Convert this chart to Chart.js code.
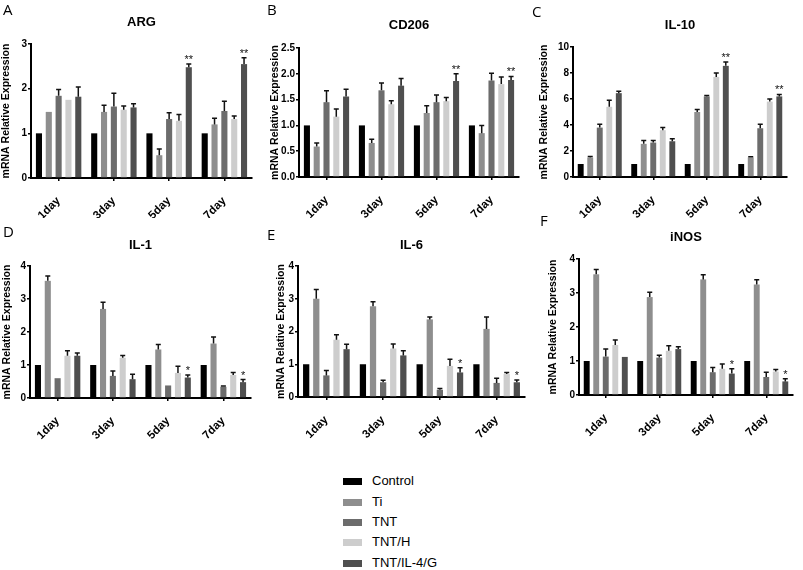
<!DOCTYPE html>
<html><head><meta charset="utf-8">
<script src="https://cdn.jsdelivr.net/npm/chart.js@4.4.0/dist/chart.umd.min.js"></script>
<style>
body{margin:0;background:#fff;width:803px;height:570px;position:relative;overflow:hidden;font-family:"Liberation Sans",Arial,sans-serif}
canvas{position:absolute}
.lt{position:absolute;font-family:"Open Sans","DejaVu Sans",sans-serif;font-size:15px;color:#000;line-height:15px}
.lg{position:absolute;left:343px;height:20px;width:150px;font-size:13px;color:#000}
.lg span.sw{position:absolute;left:0;top:7px;width:19px;height:7px}
.lg span.tx{position:absolute;left:29px;top:2px;line-height:16px}
</style>
</head><body>
<script>
// ---- data ----
const days = ["1day", "3day", "5day", "7day"];
const groups = ["Control", "Ti", "TNT", "TNT/H", "TNT/IL-4/G"];
const groupColors = ["#000000", "#8e8e8e", "#6c6c6c", "#cdcdcd", "#4f4f4f"];

const argValues = [[1,1,1,1],[1.48,1.48,0.51,1.2],[1.84,1.6,1.32,1.5],[1.75,1.53,1.28,1.32],[1.82,1.58,2.48,2.55]];
const argErrors = [[0,0,0,0],[0,0.15,0.14,0.14],[0.14,0.3,0.14,0.22],[0,0.08,0.14,0.07],[0.22,0.08,0.07,0.14]];
const argStars = ["", "", "**", "**"];

const cd206Values = [[1,1,1,1],[0.59,0.66,1.24,0.85],[1.45,1.68,1.45,1.87],[1.17,1.41,1.47,1.8],[1.56,1.77,1.86,1.88]];
const cd206Errors = [[0,0,0,0],[0.07,0.07,0.14,0.15],[0.22,0.14,0.14,0.14],[0.15,0.07,0.07,0.14],[0.14,0.14,0.14,0.07]];
const cd206Stars = ["", "", "**", "**"];

const il10Values = [[1,1,1,1],[1.5,2.55,5.0,1.5],[3.8,2.65,6.2,3.75],[5.4,3.6,7.7,5.8],[6.45,2.75,8.55,6.2]];
const il10Errors = [[0,0,0,0],[0.07,0.25,0.2,0.06],[0.25,0.15,0.07,0.3],[0.5,0.2,0.3,0.2],[0.15,0.2,0.3,0.15]];
const il10Stars = ["", "", "**", "**"];

const il1Values = [[1,1,1,1],[3.55,2.7,1.47,1.65],[0.6,0.67,0.38,0.34],[1.28,1.22,0.76,0.7],[1.28,0.57,0.62,0.48]];
const il1Errors = [[0,0,0,0],[0.15,0.2,0.15,0.2],[0,0.15,0,0.02],[0.15,0.07,0.2,0.07],[0.08,0.15,0.08,0.08]];
const il1Stars = ["", "", "*", "*"];

const il6Values = [[1,1,1,1],[3.0,2.77,2.37,2.08],[0.66,0.45,0.22,0.43],[1.75,1.48,0.95,0.7],[1.46,1.27,0.75,0.45]];
const il6Errors = [[0,0,0,0],[0.28,0.14,0.07,0.36],[0.15,0.06,0.04,0.14],[0.15,0.14,0.2,0.05],[0.15,0.14,0.14,0.07]];
const il6Stars = ["", "", "*", "*"];

const inosValues = [[1,1,1,1],[3.55,2.88,3.4,3.25],[1.13,1.1,0.67,0.53],[1.47,1.3,0.77,0.69],[1.12,1.35,0.63,0.4]];
const inosErrors = [[0,0,0,0],[0.14,0.14,0.14,0.14],[0.22,0.07,0.14,0.14],[0.15,0.15,0.14,0.06],[0,0.07,0.14,0.08]];
const inosStars = ["", "", "*", "*"];

const yTitle = "mRNA Relative Expression";

// ---- layout (positions only) ----
const panels = [
  {letter:"A", lx:3, ly:2, title:"ARG", x:0, y:0, w:265, h:218, padL:0, axisX:31, top:44, bottom:178, right:252, titleY:22, max:3, step:1, dec:0, values:argValues, errors:argErrors, stars:argStars},
  {letter:"B", lx:267, ly:2, title:"CD206", x:265, y:0, w:265, h:218, padL:4, axisX:34, top:48, bottom:177, right:254, titleY:25, max:2.5, step:0.5, dec:1, values:cd206Values, errors:cd206Errors, stars:cd206Stars},
  {letter:"C", lx:532, ly:4, title:"IL-10", x:530, y:0, w:273, h:218, padL:8, axisX:43, top:47, bottom:177, right:257, titleY:25, max:10, step:2, dec:0, values:il10Values, errors:il10Errors, stars:il10Stars},
  {letter:"D", lx:3, ly:224, title:"IL-1", x:0, y:218, w:265, h:222, padL:1, axisX:30, top:48, bottom:180, right:251, titleY:27, max:4, step:1, dec:0, values:il1Values, errors:il1Errors, stars:il1Stars},
  {letter:"E", lx:267, ly:227, title:"IL-6", x:265, y:218, w:265, h:222, padL:10, axisX:33, top:48, bottom:179, right:260, titleY:27, max:4, step:1, dec:0, values:il6Values, errors:il6Errors, stars:il6Stars},
  {letter:"F", lx:540, ly:213, title:"iNOS", x:530, y:218, w:273, h:222, padL:17, axisX:49, top:41, bottom:177, right:263, titleY:19, max:4, step:1, dec:0, values:inosValues, errors:inosErrors, stars:inosStars}
];

Chart.defaults.font.family = '"Liberation Sans", Arial, sans-serif';
Chart.defaults.color = '#000';

const errorBarPlugin = {
  id: 'errorBars',
  afterDatasetsDraw(chart, args, opts) {
    const ctx = chart.ctx;
    const ys = chart.scales.y;
    ctx.save();
    ctx.strokeStyle = '#111';
    ctx.fillStyle = '#111';
    ctx.lineWidth = 1.5;
    chart.data.datasets.forEach((ds, i) => {
      const meta = chart.getDatasetMeta(i);
      meta.data.forEach((bar, j) => {
        const e = opts.errors[i][j];
        const v = ds.data[j];
        let capY = bar.y;
        if (e > 0) {
          capY = ys.getPixelForValue(v + e);
          ctx.beginPath();
          ctx.moveTo(bar.x, bar.y);
          ctx.lineTo(bar.x, capY);
          ctx.moveTo(bar.x - 2.5, capY);
          ctx.lineTo(bar.x + 2.5, capY);
          ctx.stroke();
        }
        if (i === chart.data.datasets.length - 1 && opts.stars[j]) {
          ctx.font = '11px "Liberation Sans", Arial, sans-serif';
          ctx.textAlign = 'center';
          ctx.textBaseline = 'alphabetic';
          ctx.fillText(opts.stars[j], bar.x, capY - 1);
        }
      });
    });
    ctx.restore();
  }
};

panels.forEach(p => {
  const c = document.createElement('canvas');
  c.width = p.w; c.height = p.h;
  c.style.left = p.x + 'px'; c.style.top = p.y + 'px';
  c.style.width = p.w + 'px'; c.style.height = p.h + 'px';
  document.body.appendChild(c);

  const lt = document.createElement('div');
  lt.className = 'lt';
  lt.style.left = p.lx + 'px'; lt.style.top = p.ly + 'px';
  lt.textContent = p.letter;
  document.body.appendChild(lt);

  const tfs = 13, tlh = tfs * 1.2;
  const tTop = p.titleY - tlh / 2;
  const tBottom = p.top - (p.titleY + tlh / 2);

  new Chart(c, {
    type: 'bar',
    data: {
      labels: days,
      datasets: groups.map((g, i) => ({
        label: g,
        data: p.values[i],
        backgroundColor: groupColors[i],
        borderWidth: 0,
        barPercentage: 0.62,
        categoryPercentage: 0.89
      }))
    },
    options: {
      responsive: false,
      animation: false,
      devicePixelRatio: 1,
      layout: { padding: { left: p.padL, right: p.w - p.right, top: 0, bottom: 0 } },
      plugins: {
        legend: { display: false },
        tooltip: { enabled: false },
        title: {
          display: true, text: p.title, fullSize: false,
          font: { size: tfs, weight: 'bold', lineHeight: 1.2 },
          padding: { top: tTop, bottom: tBottom }, color: '#000'
        },
        errorBars: { errors: p.errors, stars: p.stars }
      },
      scales: {
        x: {
          grid: { display: true, drawOnChartArea: false, drawTicks: true, offset: false, tickLength: 3, color: '#000', lineWidth: 1.5 },
          border: { display: true, color: '#000', width: 2 },
          ticks: { minRotation: 45, maxRotation: 45, padding: 13, font: { size: 11.5, weight: 'bold' }, color: '#000' },
          afterFit(s) { s.height = p.h - p.bottom; }
        },
        y: {
          min: 0, max: p.max,
          grid: { display: true, drawOnChartArea: false, drawTicks: true, tickLength: 3, color: '#000', lineWidth: 1.5 },
          border: { display: true, color: '#000', width: 2 },
          ticks: { stepSize: p.step, padding: 1, font: { size: 10, weight: 'bold' }, color: '#000',
                   callback: v => Number(v).toFixed(p.dec) },
          title: { display: true, text: yTitle, font: { size: 10.5, weight: 'bold' }, color: '#000', padding: 0 },
          afterFit(s) { s.width = p.axisX - p.padL; }
        }
      }
    },
    plugins: [errorBarPlugin]
  });
});

// legend
const legendRowsY = [471, 492, 512, 532, 553];
groups.forEach((g, i) => {
  const d = document.createElement('div');
  d.className = 'lg';
  d.style.top = legendRowsY[i] + 'px';
  const sw = document.createElement('span');
  sw.className = 'sw'; sw.style.background = groupColors[i];
  const tx = document.createElement('span');
  tx.className = 'tx'; tx.textContent = g;
  d.appendChild(sw); d.appendChild(tx);
  document.body.appendChild(d);
});
</script>
</body></html>
